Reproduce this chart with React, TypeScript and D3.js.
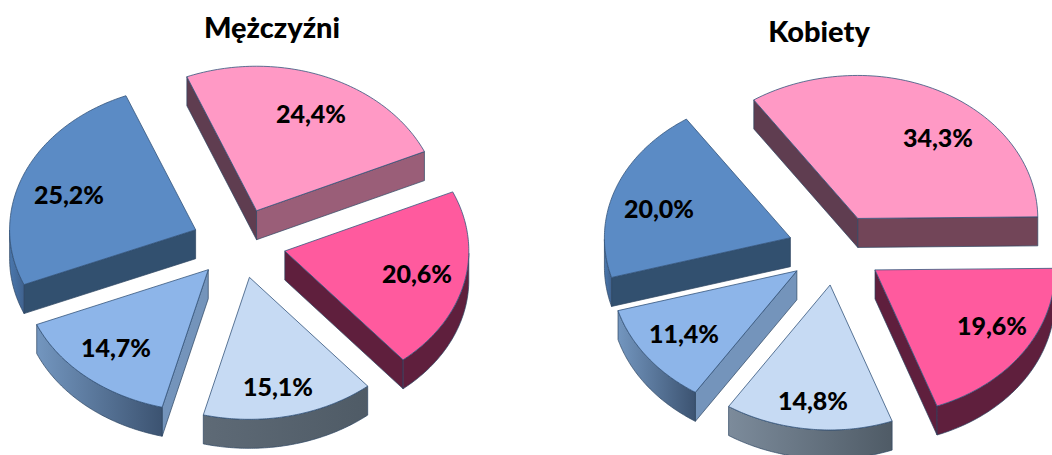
import React from "react";
import * as d3 from "d3";

const categories = ["a", "b", "c", "d", "e"];
const menValues = [24.4, 20.6, 15.1, 14.7, 25.2];
const womenValues = [34.3, 19.6, 14.8, 11.4, 20.0];
const menLabels = ["24,4%", "20,6%", "15,1%", "14,7%", "25,2%"];
const womenLabels = ["34,3%", "19,6%", "14,8%", "11,4%", "20,0%"];
const topColors = ["#FF99C5", "#FF5A9E", "#C6DAF3", "#8DB5E9", "#5B8BC5"];
const startWallColors = ["#5F3D50", "#5F1F3D", "#505E6C", "#7494BB", "#32506F"];
const menEndWallColors = ["#9A5E78", "#5F1F3D", "#505E6C", "#7494BB", "#32506F"];
const womenEndWallColors = ["#724558", "#5F1F3D", "#505E6C", "#7494BB", "#32506F"];
const menArcLeftColors = ["#9A5E78", "#5F1F3D", "#5E6A76", "#7396BF", "#4A77AD"];
const womenArcLeftColors = ["#9A5E78", "#5F1F3D", "#7C8B9B", "#7396BF", "#4A77AD"];
const arcRightColors = ["#9A5E78", "#5F1F3D", "#4F5B66", "#3C5371", "#40628E"];

const rad = Math.PI / 180;
type Cfg = {
  title: string; tx: number; ty: number; values: number[]; labels: string[]; endWalls: string[]; arcLeft: string[];
  cx: number; cy: number; rx: number; rxLeft: number; ryTop: number; ryBottom: number; start: number; explodeX: number; explodeY: number; depth: number;
  lblPos: [number, number][];
};

const pies: Cfg[] = [
  { title: "Mężczyźni", tx: 272, ty: 38, values: menValues, labels: menLabels, endWalls: menEndWallColors, arcLeft: menArcLeftColors,
    cx: 239, cy: 243.2, rx: 184, rxLeft: 186, ryTop: 144.5, ryBottom: 142, start: -22, explodeX: 47, explodeY: 35, depth: 29,
    lblPos: [[311, 113], [417, 273], [278, 386], [116, 347], [69, 194]] },
  { title: "Kobiety", tx: 819, ty: 42, values: womenValues, labels: womenLabels, endWalls: womenEndWallColors, arcLeft: womenArcLeftColors,
    cx: 835.5, cy: 249.8, rx: 180, rxLeft: 186, ryTop: 143, ryBottom: 145, start: -34, explodeX: 48, explodeY: 35.4, depth: 29,
    lblPos: [[938, 137], [992, 325], [813, 400], [684, 333], [659, 208]] },
];

function PieChart({ cfg, id }: { cfg: Cfg; id: string }) {
  const { rx, rxLeft, ryTop, ryBottom, depth } = cfg;
  const s0 = cfg.start * rad;
  const arcs = d3.pie<number>().sort(null).startAngle(s0).endAngle(s0 + 2 * Math.PI)(cfg.values);
  const line = d3.line<[number, number]>();
  const slices = arcs.map((a, i) => {
    const mid = (a.startAngle + a.endAngle) / 2;
    const ox = cfg.cx + cfg.explodeX * Math.sin(mid);
    const oy = cfg.cy - cfg.explodeY * Math.cos(mid);
    const pt = (t: number, d = 0): [number, number] => {
      const s = Math.sin(t);
      const c = Math.cos(t);
      return [ox + (s < 0 ? rxLeft : rx) * s, oy - (c > 0 ? ryTop : ryBottom) * c + d];
    };
    const walls: { d: string; fill: string }[] = [];
    const n = 80;
    const ts = d3.range(n + 1).map((j) => a.startAngle + ((a.endAngle - a.startAngle) * j) / n);
    const apex: [number, number] = [ox, oy];
    const startP = pt(a.startAngle);
    const endP = pt(a.endAngle);
    if (startP[0] < ox) walls.push({ d: line([apex, startP, [startP[0], startP[1] + depth], [ox, oy + depth]])! + "Z", fill: startWallColors[i] });
    if (endP[0] > ox) walls.push({ d: line([apex, endP, [endP[0], endP[1] + depth], [ox, oy + depth]])! + "Z", fill: cfg.endWalls[i] });
    const front = ts.filter((t) => Math.cos(t) < 0);
    if (front.length > 1) {
      const top = front.map((t) => pt(t));
      const bot = front.map((t) => pt(t, depth)).reverse();
      walls.push({ d: line([...top, ...bot])! + "Z", fill: `url(#${id}-g${i})` });
    }
    const topFace = line([apex, ...ts.map((t) => pt(t))])! + "Z";
    return { i, oy, walls, topFace };
  });
  const order = [...slices].sort((p, q) => p.oy - q.oy);
  return (
    <g>
      <defs>
        {slices.map((s) => (
          <linearGradient key={s.i} id={`${id}-g${s.i}`} gradientUnits="objectBoundingBox" x1="0" x2="1" y1="0" y2="0">
            <stop offset="0" stopColor={cfg.arcLeft[s.i]} />
            <stop offset="1" stopColor={arcRightColors[s.i]} />
          </linearGradient>
        ))}
      </defs>
      {order.map((s) => (
        <g key={categories[s.i]}>
          {s.walls.map((w, j) => (
            <path key={j} d={w.d} fill={w.fill} stroke="#2C4562" strokeWidth={0.7} strokeLinejoin="round" />
          ))}
          <path d={s.topFace} fill={topColors[s.i]} stroke="#35557C" strokeWidth={0.8} strokeLinejoin="round" />
        </g>
      ))}
      {cfg.labels.map((l, i) => (
        <text key={i} x={cfg.lblPos[i][0]} y={cfg.lblPos[i][1]} textAnchor="middle" dominantBaseline="central" fontFamily="Lato, sans-serif" fontWeight={900} fontSize={25} fill="#000">{l}</text>
      ))}
      <text x={cfg.tx} y={cfg.ty} textAnchor="middle" fontFamily="Lato, sans-serif" fontWeight={900} fontSize={29} fill="#000">{cfg.title}</text>
    </g>
  );
}

export default function App() {
  return (
    <svg width={1052} height={455} style={{ position: "absolute", left: 0, top: 0, background: "#fff" }}>
      {pies.map((c, i) => (
        <PieChart key={c.title} cfg={c} id={`p${i}`} />
      ))}
    </svg>
  );
}
